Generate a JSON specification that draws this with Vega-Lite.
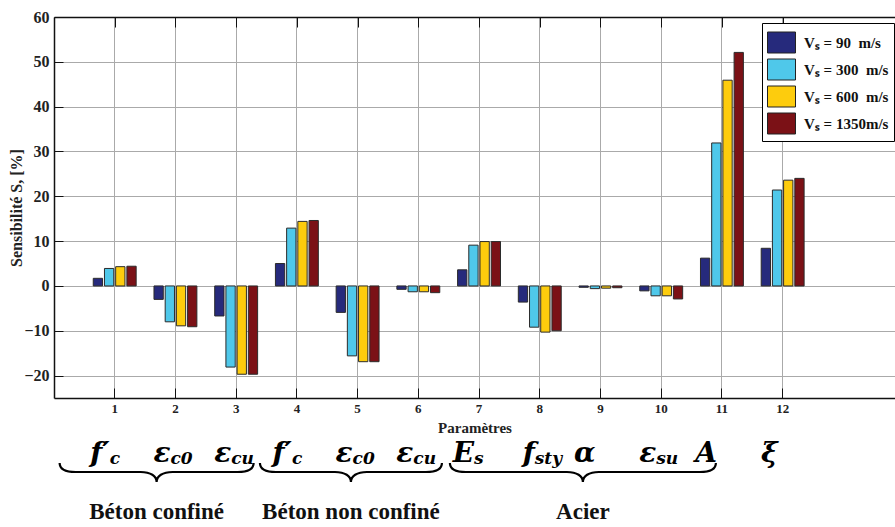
{
  "$schema": "https://vega.github.io/schema/vega-lite/v6.json",
  "width": 841,
  "height": 381,
  "autosize": {"type": "none"},
  "padding": {"left": 54, "top": 17, "right": 0, "bottom": 129},
  "background": "white",
  "config": {"view": {"stroke": null}, "font": "Liberation Serif"},
  "datasets": {
    "bars": [
      {"param": 1, "series": "Vₛ = 90\u00a0\u00a0m/s", "value": 1.7},
      {"param": 1, "series": "Vₛ = 300\u00a0\u00a0m/s", "value": 3.9},
      {"param": 1, "series": "Vₛ = 600\u00a0\u00a0m/s", "value": 4.3},
      {"param": 1, "series": "Vₛ = 1350m/s", "value": 4.4},
      {"param": 2, "series": "Vₛ = 90\u00a0\u00a0m/s", "value": -3.0},
      {"param": 2, "series": "Vₛ = 300\u00a0\u00a0m/s", "value": -8.0},
      {"param": 2, "series": "Vₛ = 600\u00a0\u00a0m/s", "value": -8.9},
      {"param": 2, "series": "Vₛ = 1350m/s", "value": -9.1},
      {"param": 3, "series": "Vₛ = 90\u00a0\u00a0m/s", "value": -6.7},
      {"param": 3, "series": "Vₛ = 300\u00a0\u00a0m/s", "value": -18.1},
      {"param": 3, "series": "Vₛ = 600\u00a0\u00a0m/s", "value": -19.7},
      {"param": 3, "series": "Vₛ = 1350m/s", "value": -19.7},
      {"param": 4, "series": "Vₛ = 90\u00a0\u00a0m/s", "value": 5.0},
      {"param": 4, "series": "Vₛ = 300\u00a0\u00a0m/s", "value": 12.9},
      {"param": 4, "series": "Vₛ = 600\u00a0\u00a0m/s", "value": 14.4},
      {"param": 4, "series": "Vₛ = 1350m/s", "value": 14.6},
      {"param": 5, "series": "Vₛ = 90\u00a0\u00a0m/s", "value": -5.9},
      {"param": 5, "series": "Vₛ = 300\u00a0\u00a0m/s", "value": -15.6},
      {"param": 5, "series": "Vₛ = 600\u00a0\u00a0m/s", "value": -16.9},
      {"param": 5, "series": "Vₛ = 1350m/s", "value": -16.9},
      {"param": 6, "series": "Vₛ = 90\u00a0\u00a0m/s", "value": -0.75},
      {"param": 6, "series": "Vₛ = 300\u00a0\u00a0m/s", "value": -1.3},
      {"param": 6, "series": "Vₛ = 600\u00a0\u00a0m/s", "value": -1.3},
      {"param": 6, "series": "Vₛ = 1350m/s", "value": -1.5},
      {"param": 7, "series": "Vₛ = 90\u00a0\u00a0m/s", "value": 3.6},
      {"param": 7, "series": "Vₛ = 300\u00a0\u00a0m/s", "value": 9.1},
      {"param": 7, "series": "Vₛ = 600\u00a0\u00a0m/s", "value": 9.9},
      {"param": 7, "series": "Vₛ = 1350m/s", "value": 9.9},
      {"param": 8, "series": "Vₛ = 90\u00a0\u00a0m/s", "value": -3.6},
      {"param": 8, "series": "Vₛ = 300\u00a0\u00a0m/s", "value": -9.2},
      {"param": 8, "series": "Vₛ = 600\u00a0\u00a0m/s", "value": -10.3},
      {"param": 8, "series": "Vₛ = 1350m/s", "value": -10.0},
      {"param": 9, "series": "Vₛ = 90\u00a0\u00a0m/s", "value": -0.3},
      {"param": 9, "series": "Vₛ = 300\u00a0\u00a0m/s", "value": -0.6},
      {"param": 9, "series": "Vₛ = 600\u00a0\u00a0m/s", "value": -0.5},
      {"param": 9, "series": "Vₛ = 1350m/s", "value": -0.4},
      {"param": 10, "series": "Vₛ = 90\u00a0\u00a0m/s", "value": -1.1},
      {"param": 10, "series": "Vₛ = 300\u00a0\u00a0m/s", "value": -2.2},
      {"param": 10, "series": "Vₛ = 600\u00a0\u00a0m/s", "value": -2.2},
      {"param": 10, "series": "Vₛ = 1350m/s", "value": -2.9},
      {"param": 11, "series": "Vₛ = 90\u00a0\u00a0m/s", "value": 6.2},
      {"param": 11, "series": "Vₛ = 300\u00a0\u00a0m/s", "value": 31.9},
      {"param": 11, "series": "Vₛ = 600\u00a0\u00a0m/s", "value": 45.9},
      {"param": 11, "series": "Vₛ = 1350m/s", "value": 52.1},
      {"param": 12, "series": "Vₛ = 90\u00a0\u00a0m/s", "value": 8.4},
      {"param": 12, "series": "Vₛ = 300\u00a0\u00a0m/s", "value": 21.4},
      {"param": 12, "series": "Vₛ = 600\u00a0\u00a0m/s", "value": 23.6},
      {"param": 12, "series": "Vₛ = 1350m/s", "value": 24.0}
    ],
    "symbols": [
      {"param": 1, "main": "f′", "sub": "c"},
      {"param": 2, "main": "ε", "sub": "c0"},
      {"param": 3, "main": "ε", "sub": "cu"},
      {"param": 4, "main": "f′", "sub": "c"},
      {"param": 5, "main": "ε", "sub": "c0"},
      {"param": 6, "main": "ε", "sub": "cu"},
      {"param": 7, "main": "E", "sub": "s"},
      {"param": 8, "main": "f", "sub": "sty"},
      {"param": 9, "main": "α", "sub": ""},
      {"param": 10, "main": "ε", "sub": "su"},
      {"param": 11, "main": "A", "sub": ""},
      {"param": 12, "main": "ξ", "sub": ""}
    ],
    "groups": [
      {"group": "Béton confiné", "center": 1.69},
      {"group": "Béton non confiné", "center": 4.89},
      {"group": "Acier", "center": 8.71}
    ]
  },
  "layer": [
    {
      "data": {"name": "bars"},
      "mark": {"type": "bar", "stroke": "#2b2b2b", "strokeWidth": 1},
      "encoding": {
        "x": {
          "field": "param", "type": "ordinal",
          "scale": {"paddingInner": 0, "paddingOuter": 0.925, "align": 0.2702, "round": false},
          "axis": {
            "title": "Paramètres", "orient": "bottom", "labelAngle": 0, "bandPosition": 0.5,
            "grid": true, "gridColor": "#aaaaaa", "gridWidth": 1,
            "domainColor": "#111", "domainWidth": 1.5,
            "tickColor": "#111", "tickSize": -10, "tickWidth": 1,
            "labelFont": "Liberation Serif", "labelFontSize": 13, "labelFontWeight": "bold", "labelColor": "#222", "labelPadding": 14,
            "titleFont": "Liberation Serif", "titleFontSize": 15, "titleFontWeight": "bold", "titleColor": "#222", "titlePadding": 5
          }
        },
        "xOffset": {
          "field": "series", "type": "nominal",
          "sort": ["Vₛ = 90\u00a0\u00a0m/s", "Vₛ = 300\u00a0\u00a0m/s", "Vₛ = 600\u00a0\u00a0m/s", "Vₛ = 1350m/s"],
          "scale": {"paddingInner": 0.17, "paddingOuter": 0.795}
        },
        "y": {
          "field": "value", "type": "quantitative",
          "scale": {"domain": [-25, 60], "nice": false, "zero": false},
          "axis": {
            "values": [-20, -10, 0, 10, 20, 30, 40, 50, 60],
            "title": "Sensibilité S, [%]",
            "grid": true, "gridColor": "#aaaaaa", "gridWidth": 1,
            "domainColor": "#111", "domainWidth": 1.5,
            "tickColor": "#111", "tickSize": -9,
            "labelFont": "Liberation Serif", "labelFontSize": 16, "labelFontWeight": "bold", "labelColor": "#222", "labelPadding": 14,
            "titleFont": "Liberation Serif", "titleFontSize": 16, "titleFontWeight": "bold", "titleColor": "#222", "titlePadding": -1
          }
        },
        "color": {
          "field": "series", "type": "nominal",
          "scale": {
            "domain": ["Vₛ = 90\u00a0\u00a0m/s", "Vₛ = 300\u00a0\u00a0m/s", "Vₛ = 600\u00a0\u00a0m/s", "Vₛ = 1350m/s"],
            "range": ["#262a7c", "#4fc8ea", "#fdcc0d", "#7b1116"]
          },
          "legend": {
            "title": null, "orient": "none", "legendX": 708, "legendY": 6,
            "fillColor": "white", "strokeColor": "black", "padding": 5,
            "symbolType": "M-1,-0.75H1V0.75H-1Z", "symbolSize": 784,
            "symbolStrokeColor": "#222", "symbolStrokeWidth": 1, "symbolOpacity": 1,
            "labelFont": "Liberation Serif", "labelFontSize": 15, "labelFontWeight": "bold", "labelColor": "#111",
            "labelOffset": 8, "rowPadding": 0, "labelLimit": 0
          }
        }
      }
    },
    {
      "mark": {"type": "rule", "color": "#1a1a1a", "strokeWidth": 1.3},
      "encoding": {"y": {"datum": 0, "scale": {"domain": [-25, 60], "nice": false, "zero": false}, "axis": null}}
    },
    {
      "data": {"name": "groups"},
      "mark": {"type": "point", "filled": false, "stroke": "#000", "strokeWidth": 2.2, "opacity": 1, "size": 4},
      "encoding": {
        "x": {
          "field": "center", "type": "quantitative",
          "scale": {"domain": [0, 13.85], "nice": false, "zero": false},
          "axis": {
            "orient": "top", "values": [1, 2, 3, 4, 5, 6, 7, 8, 9, 10, 11, 12],
            "labels": false, "grid": false, "title": null,
            "domainColor": "#111", "domainWidth": 1.5, "tickColor": "#111", "tickSize": -10
          }
        },
        "y": {"datum": -25, "scale": {"domain": [-25, 60], "nice": false, "zero": false}, "axis": null},
        "shape": {
          "field": "group", "type": "nominal", "legend": null,
          "scale": {
            "domain": ["Béton confiné", "Béton non confiné", "Acier"],
            "range": [
              "M-97,65C-97,71 -91,74 -81,74L-16,74C-6,74 0,78 0,84C0,78 6,74 16,74L81,74C91,74 97,71 97,65",
              "M-91,65C-91,71 -85,74 -75,74L-16,74C-6,74 0,78 0,84C0,78 6,74 16,74L75,74C85,74 91,71 91,65",
              "M-133,65C-133,71 -127,74 -117,74L-16,74C-6,74 0,78 0,84C0,78 6,74 16,74L117,74C127,74 133,71 133,65"
            ]
          }
        }
      }
    },
    {
      "data": {"name": "groups"},
      "mark": {"type": "text", "align": "center", "baseline": "alphabetic", "dy": 121, "font": "Liberation Serif", "fontSize": 23, "fontWeight": "bold", "color": "#111"},
      "encoding": {
        "x": {"field": "center", "type": "quantitative", "scale": {"domain": [0, 13.85], "nice": false, "zero": false}, "axis": null},
        "y": {"datum": -25, "scale": {"domain": [-25, 60], "nice": false, "zero": false}, "axis": null},
        "text": {"field": "group"}
      }
    },
    {
      "data": {"name": "symbols"},
      "mark": {"type": "text", "align": "right", "baseline": "alphabetic", "dx": -5, "dy": 64, "font": "DejaVu Serif", "fontSize": 28, "fontStyle": "italic", "fontWeight": "bold", "color": "#000"},
      "encoding": {
        "x": {"field": "param", "type": "quantitative", "scale": {"domain": [0, 13.85], "nice": false, "zero": false}, "axis": null},
        "y": {"datum": -25, "scale": {"domain": [-25, 60], "nice": false, "zero": false}, "axis": null},
        "text": {"field": "main"}
      }
    },
    {
      "data": {"name": "symbols"},
      "mark": {"type": "text", "align": "left", "baseline": "alphabetic", "dx": -5, "dy": 65.5, "font": "DejaVu Serif", "fontSize": 17, "fontStyle": "italic", "fontWeight": "bold", "color": "#000"},
      "encoding": {
        "x": {"field": "param", "type": "quantitative", "scale": {"domain": [0, 13.85], "nice": false, "zero": false}, "axis": null},
        "y": {"datum": -25, "scale": {"domain": [-25, 60], "nice": false, "zero": false}, "axis": null},
        "text": {"field": "sub"}
      }
    }
  ],
  "resolve": {"scale": {"x": "independent", "y": "independent"}}
}
